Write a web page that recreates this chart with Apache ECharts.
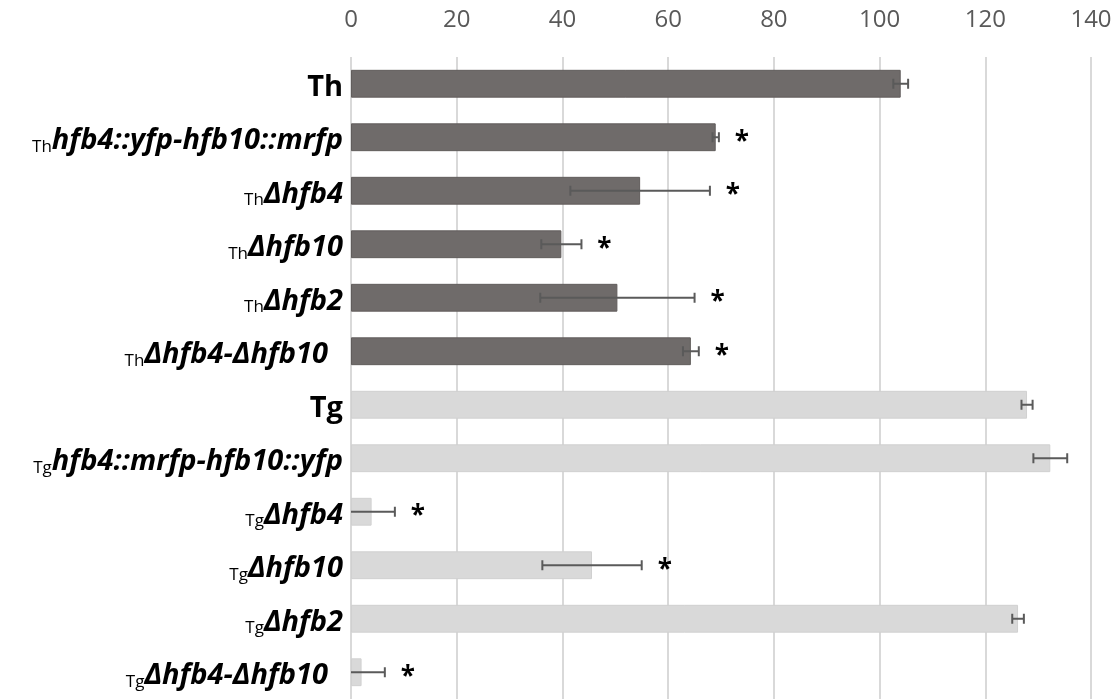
<!DOCTYPE html>
<html>
<head>
<meta charset="utf-8">
<script src="https://cdn.jsdelivr.net/npm/echarts@6/dist/echarts.min.js"></script>
<style>
html,body{margin:0;padding:0;background:#fff;}
#chart{width:1120px;height:700px;}
</style>
</head>
<body>
<div id="chart"></div>
<script>
// ---- data ----
const strainPrefix = ['', 'Th', 'Th', 'Th', 'Th', 'Th', '', 'Tg', 'Tg', 'Tg', 'Tg', 'Tg'];
const geneLabels = ['Th', 'hfb4::yfp-hfb10::mrfp', 'Δhfb4', 'Δhfb10', 'Δhfb2', 'Δhfb4-Δhfb10  ',
                    'Tg', 'hfb4::mrfp-hfb10::yfp', 'Δhfb4', 'Δhfb10', 'Δhfb2', 'Δhfb4-Δhfb10  '];
const group = ['Th', 'Th', 'Th', 'Th', 'Th', 'Th', 'Tg', 'Tg', 'Tg', 'Tg', 'Tg', 'Tg'];
const values = [104.0, 69.0, 54.7, 39.8, 50.4, 64.3, 127.9, 132.3, 3.9, 45.6, 126.2, 2.0];
const errors = [1.4, 0.6, 13.2, 3.8, 14.6, 1.5, 1.05, 3.2, 4.4, 9.4, 1.1, 4.4];
const significant = [0, 1, 1, 1, 1, 1, 0, 0, 1, 1, 0, 1];
const xTicks = [0, 20, 40, 60, 80, 100, 120, 140];

// ---- styles ----
const groupColor = { Th: '#6f6b6a', Tg: '#d9d9d9' };
const groupBorder = { Th: '#615d5c', Tg: '#d0d0d0' };
const categories = geneLabels.map((g, i) => String(i));
const axisMin = xTicks[0];

const chart = echarts.init(document.getElementById('chart'), null, { renderer: 'canvas' });

const barData = values.map((v, i) => ({
  value: v,
  itemStyle: { color: groupColor[group[i]], borderColor: groupBorder[group[i]], borderWidth: 1 }
}));
const errData = values.map((v, i) => [v, i, errors[i], significant[i]]);

chart.setOption({
  animation: false,
  backgroundColor: '#ffffff',
  grid: { left: 351, right: 29, top: 57, bottom: 1, containLabel: false },
  xAxis: {
    type: 'value',
    position: 'top',
    min: xTicks[0],
    max: xTicks[xTicks.length - 1],
    interval: xTicks[1] - xTicks[0],
    axisLine: { show: false },
    axisTick: { show: false },
    axisLabel: { color: '#595959', fontSize: 24, fontFamily: 'Open Sans', margin: 25 },
    splitLine: { show: true, lineStyle: { color: '#d9d9d9', width: 2 } }
  },
  yAxis: {
    type: 'category',
    inverse: true,
    data: categories,
    axisLine: { show: false },
    axisTick: { show: false },
    axisLabel: {
      margin: 8,
      formatter: function (val) {
        const i = +val;
        const sub = strainPrefix[i];
        const g = geneLabels[i];
        if (!sub) return '{plain|' + g + '}';
        return '{sub|' + sub + '}{it|' + g + '}';
      },
      rich: {
        plain: { fontFamily: 'Open Sans', fontWeight: 'bold', fontSize: 29, color: '#000', verticalAlign: 'bottom', lineHeight: 36 },
        it: { fontFamily: 'Open Sans', fontWeight: 'bold', fontStyle: 'italic', fontSize: 29, color: '#000', verticalAlign: 'bottom', lineHeight: 36 },
        sub: { fontFamily: 'Open Sans', fontSize: 17, color: '#000', verticalAlign: 'bottom', lineHeight: 26 }
      }
    }
  },
  series: [
    {
      type: 'bar',
      data: barData,
      barCategoryGap: '48%',
      z: 2
    },
    {
      type: 'custom',
      z: 5,
      encode: { x: 0, y: 1 },
      data: errData,
      renderItem: function (params, api) {
        const v = api.value(0);
        const idx = api.value(1);
        const e = api.value(2);
        const sig = api.value(3);
        const lo = Math.max(v - e, axisMin);
        const p1 = api.coord([lo, idx]);
        const p2 = api.coord([v + e, idx]);
        const cap = 5;
        const st = { stroke: '#5a5a5a', lineWidth: 2 };
        const children = [
          { type: 'line', shape: { x1: p1[0], y1: p1[1], x2: p2[0], y2: p2[1] }, style: st },
          { type: 'line', shape: { x1: p2[0], y1: p2[1] - cap, x2: p2[0], y2: p2[1] + cap }, style: st }
        ];
        if (v - e > axisMin) {
          children.push({ type: 'line', shape: { x1: p1[0], y1: p1[1] - cap, x2: p1[0], y2: p1[1] + cap }, style: st });
        }
        if (sig) {
          children.push({
            type: 'text',
            style: {
              text: '*', x: p2[0] + 23, y: p2[1] + 5,
              font: 'bold 26px "Open Sans"', fill: '#000',
              align: 'center', verticalAlign: 'middle'
            }
          });
        }
        return { type: 'group', children: children };
      }
    }
  ]
});
</script>
</body>
</html>
